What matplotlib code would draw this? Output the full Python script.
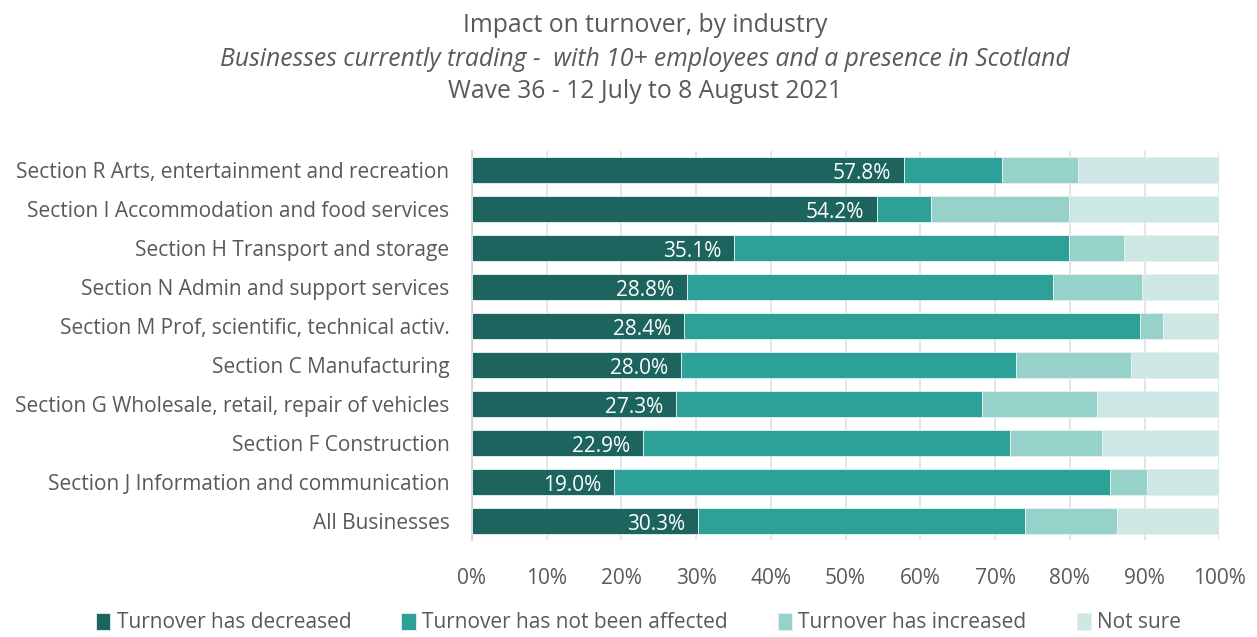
import matplotlib
matplotlib.use("Agg")
import matplotlib.pyplot as plt
import numpy as np

plt.rcParams['font.family'] = ['Open Sans', 'DejaVu Sans']

# Industries, bottom to top as drawn
industries = [
    "All Businesses",
    "Section J Information and communication",
    "Section F Construction",
    "Section G Wholesale, retail, repair of vehicles",
    "Section C Manufacturing",
    "Section M Prof, scientific, technical activ.",
    "Section N Admin and support services",
    "Section H Transport and storage",
    "Section I Accommodation and food services",
    "Section R Arts, entertainment and recreation",
]

decreased = [30.3, 19.0, 22.9, 27.3, 28.0, 28.4, 28.8, 35.1, 54.2, 57.8]
not_affected = [43.7, 66.4, 49.1, 41.0, 44.8, 61.0, 48.9, 44.8, 7.2, 13.1]
increased = [12.3, 4.9, 12.3, 15.4, 15.4, 3.1, 12.0, 7.4, 18.5, 10.2]
not_sure = [13.7, 9.7, 15.7, 16.3, 11.8, 7.5, 10.3, 12.7, 20.1, 18.9]

series_names = ["Turnover has decreased", "Turnover has not been affected",
                "Turnover has increased", "Not sure"]
colours = ["#1C645D", "#2DA197", "#97D2CA", "#CDE8E4"]
text_grey = "#595959"

fig = plt.figure(figsize=(12.57, 6.37), dpi=100)
ax = fig.add_axes([0.3753, 0.1515, 0.5947, 0.6122])

y = np.arange(len(industries))
left = np.zeros(len(industries))
bars = []
for vals, name, col in zip([decreased, not_affected, increased, not_sure],
                           series_names, colours):
    b = ax.barh(y, vals, left=left, height=0.66, color=col, label=name,
                edgecolor="#E6F2F0", linewidth=0.6, zorder=3)
    bars.append(b)
    left = left + np.array(vals)

# value labels on the "decreased" segment
for yi, v in zip(y, decreased):
    ax.text(v - 1.7, yi - 0.1, f"{v:.1f}%", ha="right", va="center",
            color="white", fontsize=15, zorder=4)

ax.set_xlim(0, 100)
ax.set_ylim(-0.5, len(industries) - 0.5)
ax.set_xticks(np.arange(0, 101, 10))
ax.set_xticklabels([f"{t}%" for t in range(0, 101, 10)])
ax.set_yticks(y)
ax.set_yticklabels(industries)
ax.tick_params(axis="both", length=0, labelsize=15, colors=text_grey)
ax.tick_params(axis="x", pad=20)
ax.tick_params(axis="y", pad=16)
ax.grid(axis="x", color="#E0E0E0", linewidth=1.2, zorder=0)
for s in ["top", "right", "bottom"]:
    ax.spines[s].set_visible(False)
ax.spines["left"].set_color("#D0D0D0")
ax.spines["left"].set_linewidth(1.2)

fig.text(0.513, 0.960, "Impact on turnover, by industry", ha="center",
         va="center", fontsize=17.8, color=text_grey)
fig.text(0.513, 0.906, "Businesses currently trading -  with 10+ employees and a presence in Scotland",
         ha="center", va="center", fontsize=17.8, color=text_grey, style="italic")
fig.text(0.513, 0.856, "Wave 36 - 12 July to 8 August 2021", ha="center",
         va="center", fontsize=17.8, color=text_grey)

fig.legend(handles=bars, labels=series_names, loc="center", ncol=4,
           bbox_to_anchor=(0.508, 0.022), frameon=False, fontsize=15,
           labelcolor=text_grey, handlelength=0.7, handleheight=0.9,
           handletextpad=0.3, columnspacing=2.4, borderpad=0.2)

fig.savefig("out.png", dpi=100)
